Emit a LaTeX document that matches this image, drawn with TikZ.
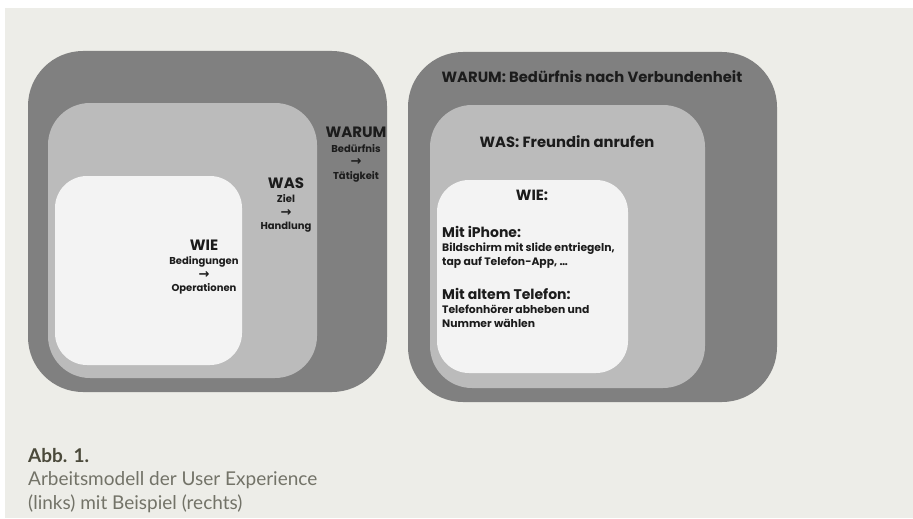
\documentclass[tikz,border=0pt]{standalone}
\usepackage{fontspec}
\setmainfont{Poppins}
\newfontfamily\capfont{Lato}
\newfontfamily\symfont{DejaVu Sans}
\usetikzlibrary{positioning}
\definecolor{pagebg}{HTML}{EDEDE8}
\definecolor{darkbox}{HTML}{808080}
\definecolor{midbox}{HTML}{BBBBBB}
\definecolor{lightbox}{HTML}{F3F3F3}
\definecolor{boxtxt}{HTML}{1C1C1C}
\definecolor{captxt}{HTML}{737368}
\definecolor{capbold}{HTML}{4B4A3B}
\tikzset{
  warumbox/.style={fill=darkbox, rounded corners=55pt, inner sep=0pt},
  wasbox/.style  ={fill=midbox, rounded corners=42pt, inner sep=0pt},
  wiebox/.style  ={fill=lightbox, rounded corners=32pt, inner sep=0pt},
  hd/.style      ={inner sep=0pt, text=boxtxt, font=\bfseries\fontsize{15}{18}\selectfont},
  exttl/.style   ={hd, font=\bfseries\fontsize{14.8}{18}\selectfont},
  sub/.style     ={inner sep=0pt, text=boxtxt, align=center, font=\bfseries\fontsize{10}{13.5}\selectfont},
  exhd/.style    ={inner sep=0pt, text=boxtxt, font=\bfseries\fontsize{14}{17}\selectfont},
  extx/.style    ={inner sep=0pt, text=boxtxt, align=left, font=\bfseries\fontsize{10.8}{14}\selectfont},
  capt/.style    ={inner sep=0pt, anchor=base west, text=captxt, font=\capfont\fontsize{19}{22}\selectfont},
}
\newcommand{\arr}{{\symfont\fontsize{13}{13.5}\selectfont →}}

\begin{document}
\begin{tikzpicture}[x=1pt, y=-1pt]
  \useasboundingbox (0,0) rectangle (913,519);
  \fill[pagebg] (5,8) rectangle (913,518);

  % links: Arbeitsmodell
  \node[warumbox, minimum width=359pt, minimum height=341pt] (warumL) at (207.5,221.5) {};
  \node[wasbox, minimum width=269pt, minimum height=275pt] (wasL) at (182.5,240.5) {};
  \node[wiebox, minimum width=187pt, minimum height=189pt] (wieL) at (148.5,270.5) {};

  \node[hd, anchor=base] (warumLhd) at (356,137.5) {WARUM};
  \node[sub, below=6pt of warumLhd] (warumLtx) {Bedürfnis\\\arr\\Tätigkeit};
  \node[hd, anchor=base] (wasLhd) at (286,188) {WAS};
  \node[sub, below=6pt of wasLhd] (wasLtx) {Ziel\\\arr\\Handlung};
  \node[hd, anchor=base] (wieLhd) at (204,250.5) {WIE};
  \node[sub, below=6pt of wieLhd] (wieLtx) {Bedingungen\\\arr\\Operationen};

  % rechts: Beispiel
  \node[warumbox, minimum width=369pt, minimum height=350pt] (warumR) at (592.5,227) {};
  \node[wasbox, minimum width=275pt, minimum height=283pt] (wasR) at (567.5,246.5) {};
  \node[wiebox, minimum width=191pt, minimum height=193pt] (wieR) at (532.5,276.5) {};

  \node[exttl, anchor=base] (warumRhd) at (592,82) {WARUM: Bedürfnis nach Verbundenheit};
  \node[exttl, anchor=base] (wasRhd) at (567,147) {WAS: Freundin anrufen};
  \node[exttl, anchor=base] (wieRhd) at (532,200) {WIE:};
  \node[exhd, anchor=base west] (iphoneHd) at (442,237.5) {Mit iPhone:};
  \node[extx, below right=5pt and 0pt of iphoneHd.south west] (iphoneTx) {Bildschirm mit slide entriegeln,\\tap auf Telefon-App, \dots};
  \node[exhd, anchor=base west] (altHd) at (442,299.5) {Mit altem Telefon:};
  \node[extx, below right=5pt and 0pt of altHd.south west] (altTx) {Telefonhörer abheben und\\Nummer wählen};

  % Bildunterschrift
  \node[capt, text=capbold, font=\capfont\bfseries\fontsize{19}{22}\selectfont] (abb) at (28,462) {Abb. 1.};
  \node[capt] (capA) at (28,485.5) {Arbeitsmodell der User Experience};
  \node[capt] (capB) at (28,509) {(links) mit Beispiel (rechts)};
\end{tikzpicture}
\end{document}
